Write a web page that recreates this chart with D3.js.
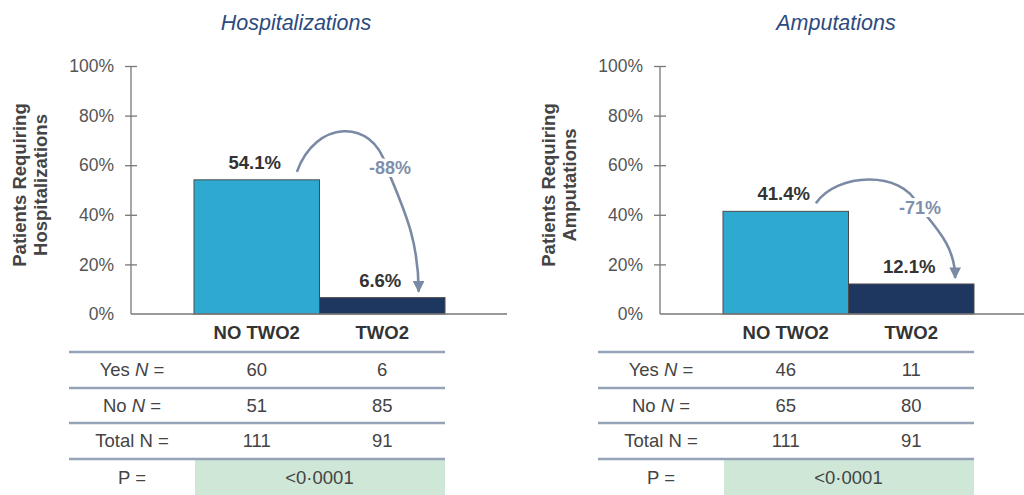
<!DOCTYPE html>
<html><head><meta charset="utf-8">
<script src="https://cdn.jsdelivr.net/npm/d3@7"></script>
<style>
html,body{margin:0;padding:0;background:#fff;}
svg{display:block;font-family:"Liberation Sans",Arial,sans-serif;}
</style></head>
<body>
<svg id="c" width="1024" height="495"></svg>
<script>
// ---- data ----
const categories = ["NO TWO2", "TWO2"];
const panelTitles = ["Hospitalizations", "Amputations"];
const yTitles = [["Patients Requiring", "Hospitalizations"], ["Patients Requiring", "Amputations"]];
const hospValues = [54.1, 6.6];
const ampValues = [41.4, 12.1];
const changeLabels = ["-88%", "-71%"];
const yTicks = [0, 20, 40, 60, 80, 100];
const rowLabels = ["Yes", "No", "Total N ="];
const hospYes = [60, 6], hospNo = [51, 85], hospTotal = [111, 91];
const ampYes = [46, 11], ampNo = [65, 80], ampTotal = [111, 91];
const pValues = ["<0\u00B70001", "<0\u00B70001"];

const svg = d3.select("#c");
const defs = svg.append("defs");
defs.append("marker").attr("id","ah").attr("viewBox","0 0 10 10")
  .attr("refX",9).attr("refY",5).attr("markerWidth",4.5).attr("markerHeight",4.5)
  .attr("orient","auto").append("path").attr("d","M0,0L10,5L0,10z").attr("fill","#7a8aa4");

const panels = [
  {ox:0, values:hospValues, yes:hospYes, no:hospNo, total:hospTotal, titleX:296, xEnd:507,
   arrow:{s:0.82, sdy:-8, e:0.79, edy:-6, apex:-46, lab:[390,168]}},
  {ox:529, values:ampValues, yes:ampYes, no:ampNo, total:ampTotal, titleX:836, xEnd:1024,
   arrow:{s:0.74, sdy:-8, e:0.85, edy:-6, apex:-25, lab:[920,208]}}
];

const y = d3.scaleLinear().domain([0,100]).range([314,66]);
const barColors = ["#2eaad1", "#1e3760"];
const FS = 18.5;

panels.forEach((p, pi) => {
  const ox = p.ox;
  const g = svg.append("g");
  const axX = 131 + ox;
  const x = d3.scaleBand().domain(categories).range([194+ox, 445+ox]).padding(0);

  // title
  g.append("text").attr("x", p.titleX).attr("y", 30).attr("text-anchor","middle")
    .attr("font-size",21.5).attr("font-style","italic").attr("fill","#2c4a7e").text(panelTitles[pi]);

  // y axis title
  const yt = g.append("text").attr("transform",`translate(${26+ox},185) rotate(-90)`)
    .attr("text-anchor","middle").attr("font-size",18.5).attr("font-weight","bold").attr("fill","#444");
  yTitles[pi].forEach((t,i)=> yt.append("tspan").attr("x",0).attr("dy", i===0?0:21).text(t));

  // y axis
  const yAxis = d3.axisLeft(y).tickValues(yTicks).tickFormat(d=>d+"%").tickSize(6).tickPadding(11);
  const ag = g.append("g").attr("transform",`translate(${axX},0)`).call(yAxis);
  ag.select(".domain").attr("stroke","#777").attr("stroke-width",1.3).attr("d",`M0,${y(100)}V${y(0)}`);
  ag.selectAll(".tick line").attr("stroke","#777").attr("stroke-width",1.3)
    .attr("x1", d => d===0 ? -6 : 6).attr("x2",-6);
  ag.selectAll(".tick text").attr("font-size",17.5).attr("fill","#555")
    .attr("font-family","'Liberation Sans',Arial,sans-serif");

  // bars
  g.selectAll("rect.bar").data(p.values).join("rect").attr("class","bar")
    .attr("x",(d,i)=>x(categories[i])).attr("width",x.bandwidth())
    .attr("y",d=>y(d)).attr("height",d=>y(0)-y(d))
    .attr("fill",(d,i)=>barColors[i]).attr("stroke","#4a4a4a").attr("stroke-width",1);

  // x axis line
  g.append("line").attr("x1",axX).attr("x2",p.xEnd).attr("y1",y(0)).attr("y2",y(0))
    .attr("stroke","#777").attr("stroke-width",1.5);

  // bar labels
  g.selectAll("text.vl").data(p.values).join("text").attr("class","vl")
    .attr("x",(d,i)=>x(categories[i])+x.bandwidth()/2 - 2).attr("y",d=>y(d)-11)
    .attr("text-anchor","middle").attr("font-size",FS).attr("font-weight","bold").attr("fill","#333")
    .text(d=>d.toFixed(1)+"%");

  // category labels
  g.selectAll("text.cl").data(categories).join("text").attr("class","cl")
    .attr("x",d=>x(d)+x.bandwidth()/2).attr("y",339)
    .attr("text-anchor","middle").attr("font-size",FS).attr("font-weight","bold").attr("fill","#333")
    .text(d=>d);

  // arrow
  const a = p.arrow;
  const sx = x(categories[0]) + x.bandwidth()*a.s, sy = y(p.values[0]) + a.sdy;
  const ex = x(categories[1]) + x.bandwidth()*a.e, ey = y(p.values[1]) + a.edy;
  const topY = y(p.values[0]) + a.apex;
  const path = d3.path();
  path.moveTo(sx, sy);
  path.bezierCurveTo(sx + (ex-sx)*0.15, topY-14, sx + (ex-sx)*0.62, topY-16, sx + (ex-sx)*0.73, topY + (ey-topY)*0.2);
  path.bezierCurveTo(sx + (ex-sx)*0.86, topY + (ey-topY)*0.45, ex, ey - (ey-topY)*0.35, ex, ey);
  g.append("path").attr("d",path.toString()).attr("fill","none").attr("stroke","#7a8aa4")
    .attr("stroke-width",2.6).attr("marker-end","url(#ah)");
  g.append("text").attr("x",a.lab[0]).attr("y",a.lab[1]+6).attr("text-anchor","middle")
    .attr("font-size",18).attr("font-weight","bold").attr("fill","#7f8fab")
    .attr("stroke","#fff").attr("stroke-width",6).attr("paint-order","stroke")
    .text(changeLabels[pi]);

  // table
  const tl = 69+ox, tr = 445+ox;
  const lines = [352, 388, 423, 459];
  const rowY = [370, 406, 441, 478];
  g.append("rect").attr("x",x(categories[0])+1).attr("y",lines[3]).attr("width",tr-x(categories[0])-1)
    .attr("height",495-lines[3]).attr("fill","#cfe7d7");
  lines.forEach(ly => g.append("line").attr("x1",tl).attr("x2",tr).attr("y1",ly).attr("y2",ly)
    .attr("stroke","#94a3b8").attr("stroke-width",2.5));
  const labX = 132+ox;
  [0,1].forEach(r => {
    const t = g.append("text").attr("x",labX).attr("y",rowY[r]+6).attr("text-anchor","middle")
      .attr("font-size",FS).attr("fill","#444");
    t.append("tspan").text(rowLabels[r]+" ");
    t.append("tspan").attr("font-style","italic").text("N");
    t.append("tspan").text(" =");
  });
  g.append("text").attr("x",labX).attr("y",rowY[2]+6).attr("text-anchor","middle")
    .attr("font-size",FS).attr("fill","#444").text(rowLabels[2]);
  g.append("text").attr("x",labX).attr("y",rowY[3]+6).attr("text-anchor","middle")
    .attr("font-size",FS).attr("fill","#444").text("P =");
  [p.yes, p.no, p.total].forEach((vals, r) => {
    g.selectAll(null).data(vals).join("text")
      .attr("x",(d,i)=>x(categories[i])+x.bandwidth()/2).attr("y",rowY[r]+6)
      .attr("text-anchor","middle").attr("font-size",FS).attr("fill","#444").text(d=>d);
  });
  g.append("text").attr("x",(x(categories[0])+tr)/2).attr("y",rowY[3]+6).attr("text-anchor","middle")
    .attr("font-size",FS).attr("fill","#444").text(pValues[pi]);
});
</script>
</body></html>
